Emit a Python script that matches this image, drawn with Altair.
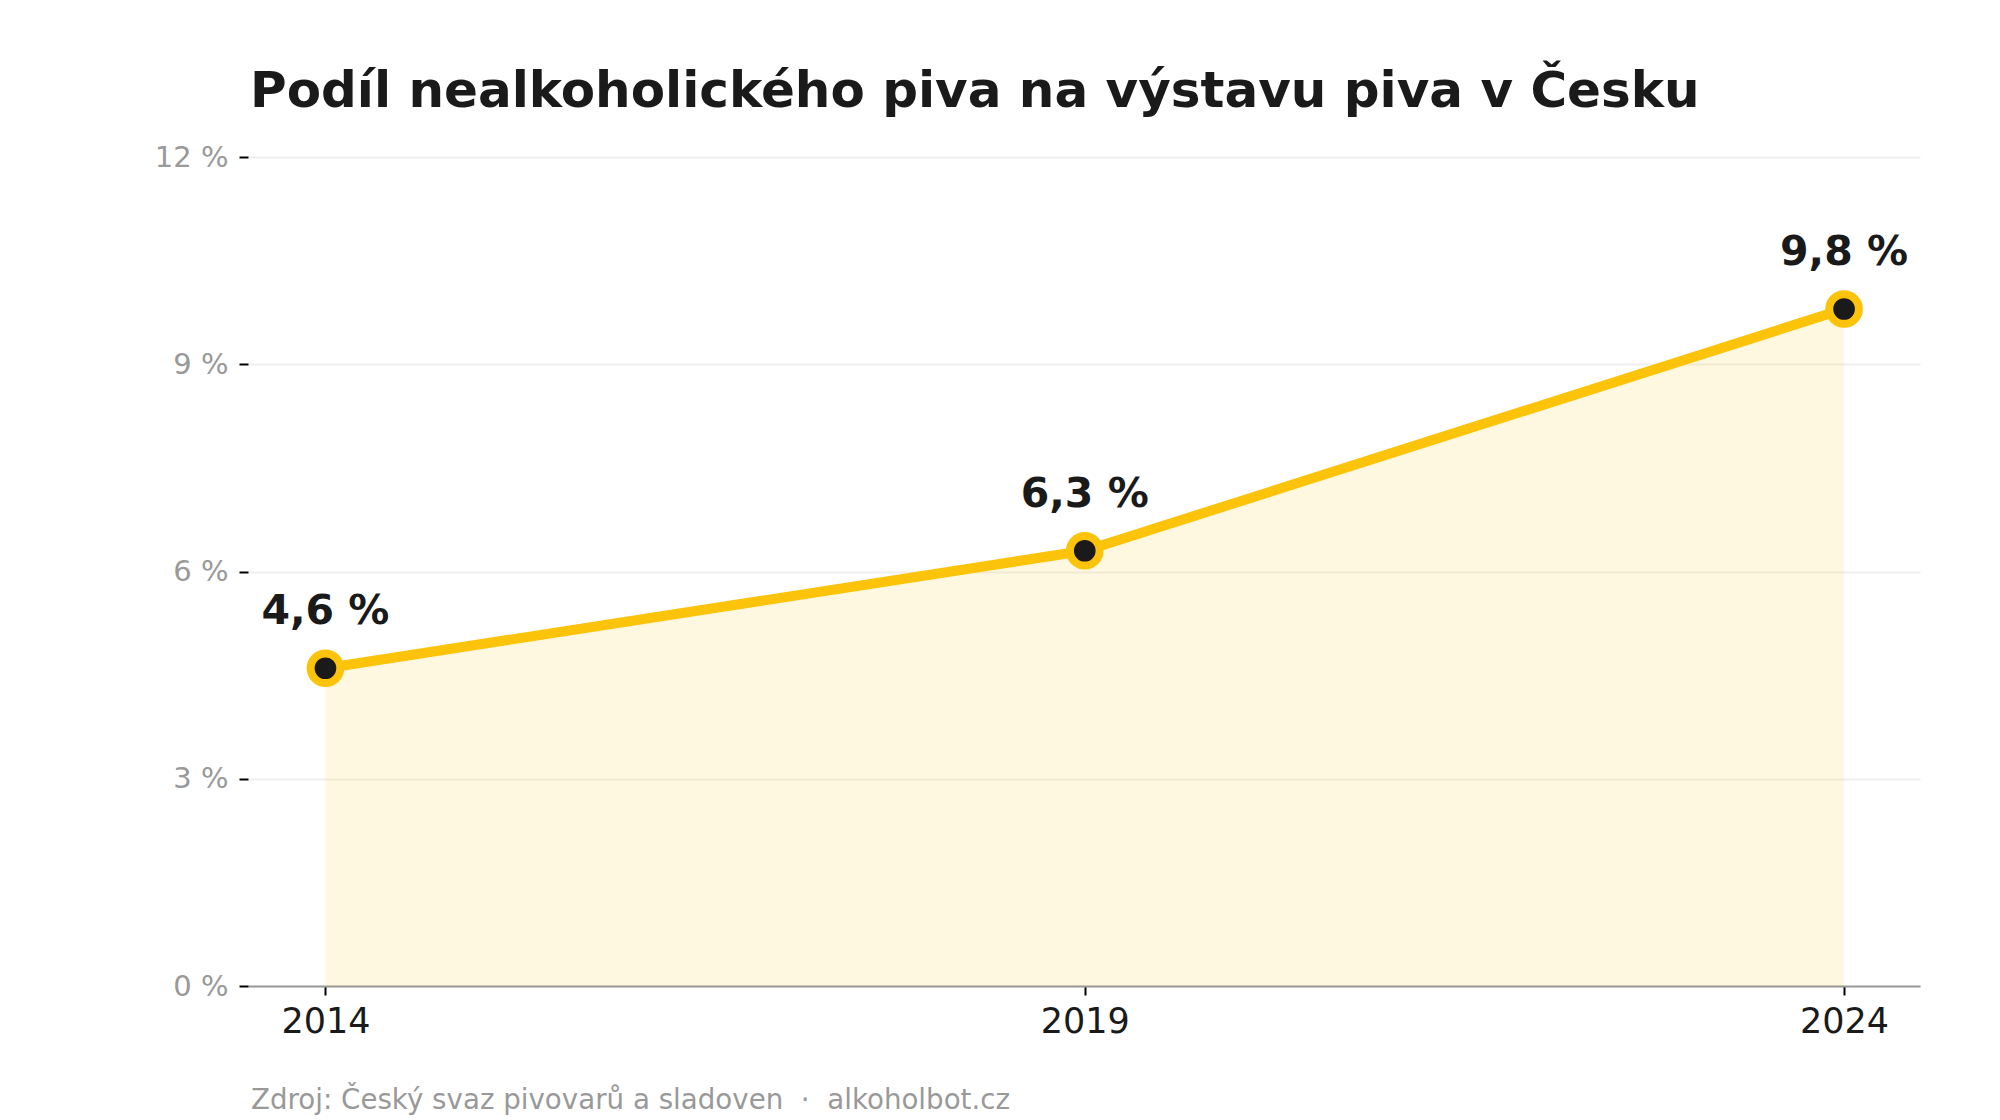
import altair as alt
import pandas as pd

# Share of non-alcoholic beer in Czech beer output (%)
years = [2014, 2019, 2024]
shares = [4.6, 6.3, 9.8]
y_ticks = [0, 3, 6, 9, 12]

title_text = "Podíl nealkoholického piva na výstavu piva v Česku"
# non-breaking spaces keep the double gap around the separator dot
source_text = "Zdroj: Český svaz pivovarů a sladoven\u00a0\u00a0·\u00a0\u00a0alkoholbot.cz"

YELLOW = "#FCC30B"
DARK = "#1a1a1a"
FONT = "DejaVu Sans"

df = pd.DataFrame({
    "year": years,
    "share": shares,
    "label": [f"{v:.1f} %".replace(".", ",") for v in shares],
})

x = alt.X(
    "year:Q",
    scale=alt.Scale(domain=[2013.49, 2024.5], nice=False, zero=False),
    axis=alt.Axis(
        values=years, format="d", title=None, grid=False,
        labelFont=FONT, labelFontSize=35, labelColor=DARK, labelPadding=9,
        domainColor="#999999", domainWidth=2,
        tickColor="#000000", tickWidth=2, tickSize=9,
    ),
)
y = alt.Y(
    "share:Q",
    scale=alt.Scale(domain=[0, 12], nice=False),
    axis=alt.Axis(
        values=y_ticks, title=None, labelExpr="datum.value + ' %'",
        labelFont=FONT, labelFontSize=29, labelColor="#999999", labelPadding=11,
        domain=False, grid=True, gridColor="#efefef", gridWidth=2,
        tickColor="#000000", tickWidth=2, tickSize=9,
    ),
)

base = alt.Chart(df)

area = base.mark_area(color=YELLOW, opacity=0.12).encode(x=x, y=y)
line = base.mark_line(color=YELLOW, strokeWidth=10).encode(x=x, y=y)
points = base.mark_point(
    shape="circle", filled=True, fill=DARK, stroke=YELLOW,
    strokeWidth=8, size=880, opacity=1,
).encode(x=x, y=y)
labels = base.mark_text(
    font=FONT, fontSize=41, fontWeight="bold", color=DARK,
    align="center", baseline="alphabetic", dy=-44,
).encode(x=x, y=y, text="label:N")

one = pd.DataFrame({"t": [title_text], "s": [source_text]})
title = alt.Chart(one).mark_text(
    font=FONT, fontSize=50, fontWeight="bold", color=DARK,
    align="left", baseline="alphabetic",
).encode(x=alt.value(2), y=alt.value(-50), text="t:N")
source = alt.Chart(one).mark_text(
    font=FONT, fontSize=27.7, color="#999999",
    align="left", baseline="alphabetic",
).encode(x=alt.value(3), y=alt.value(952), text="s:N")

chart = alt.layer(area, line, points, labels, title, source).properties(
    width=1672,
    height=829,
    padding={"left": 248, "top": 157, "right": 80, "bottom": 134},
    autosize=alt.AutoSizeParams(type="none"),
    background="white",
).configure_view(stroke=None)

chart.save("out.html", embed_options={"renderer": "svg", "actions": False})
